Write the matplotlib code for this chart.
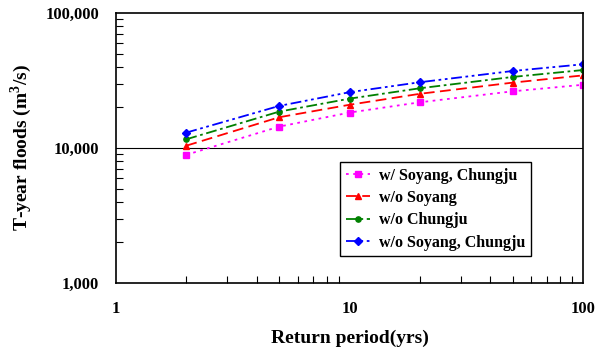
import numpy as np
import matplotlib
matplotlib.use('Agg')
import matplotlib.pyplot as plt
import matplotlib.ticker as mticker

plt.rcParams.update({'font.family': 'Liberation Serif', 'font.weight': 'bold',
                     'mathtext.fontset': 'custom', 'mathtext.rm': 'Liberation Serif:bold',
                     'mathtext.bf': 'Liberation Serif:bold'})

# ── Data ──────────────────────────────────────────────────────────────────────
periods = [2, 5, 10, 20, 50, 100]
with_both = [8900, 14400, 18300, 21800, 26300, 29400]
wo_soyang = [10400, 16900, 20900, 25200, 30500, 34500]
wo_chungju = [11600, 18600, 23200, 27700, 33600, 37800]
wo_both = [13000, 20500, 25900, 30700, 37200, 41700]

series = [
    ('w/ Soyang, Chungju', with_both, 'magenta', 's', (0, (1.5, 2.5))),
    ('w/o Soyang', wo_soyang, 'red', '^', (0, (6, 3))),
    ('w/o Chungju', wo_chungju, 'green', 'o', (0, (6, 2, 1.5, 2))),
    ('w/o Soyang, Chungju', wo_both, 'blue', 'D', (0, (6, 2, 1.5, 2, 1.5, 2))),
]

fig = plt.figure(figsize=(5.98, 3.54), dpi=100)
ax = fig.add_axes([116 / 598, 1 - 283 / 354, 467 / 598, 270 / 354])

for name, vals, color, marker, ls in series:
    ax.plot(periods, vals, color=color, linestyle=ls, linewidth=1.3,
            marker=marker, markersize=3.8, label=name)

ax.set_xscale('log')
ax.set_yscale('log')
ax.set_xlim(1, 100)
ax.set_ylim(1000, 100000)
ax.axhline(10000, color='black', linewidth=0.8, zorder=0)

ax.yaxis.set_major_formatter(mticker.FuncFormatter(lambda v, p: f'{int(v):,}'))
ax.xaxis.set_major_formatter(mticker.FuncFormatter(lambda v, p: f'{int(v)}'))
ax.yaxis.set_minor_formatter(mticker.NullFormatter())
ax.xaxis.set_minor_formatter(mticker.NullFormatter())

ax.tick_params(which='both', direction='in', labelsize=12)
ax.tick_params(axis='x', which='major', pad=13, length=0)
ax.tick_params(axis='y', which='major', pad=12, length=0)
ax.tick_params(which='minor', length=5, width=0.8)
for s in ax.spines.values():
    s.set_linewidth(1.2)

ax.set_xlabel('Return period(yrs)', fontsize=14, fontweight='bold', labelpad=9)
ax.set_ylabel('T-year floods (m$^3$/s)', fontsize=14, fontweight='bold', labelpad=8)

leg = ax.legend(loc='upper left', bbox_to_anchor=((340 - 116) / 467, (283 - 162) / 270),
                fontsize=11.5, frameon=True, fancybox=False, edgecolor='black',
                handlelength=1.5, borderpad=0.35, labelspacing=0.4, handletextpad=0.6,
                borderaxespad=0)
leg.get_frame().set_linewidth(1.0)
leg.get_frame().set_alpha(1)

fig.savefig('out.png', dpi=100)
